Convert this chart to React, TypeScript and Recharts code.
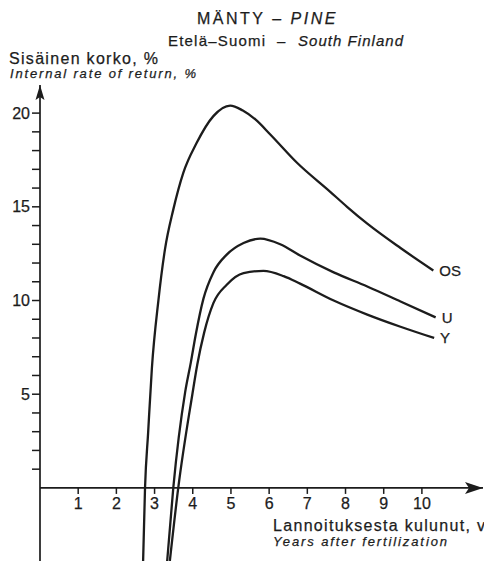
import React from 'react';
import { LineChart, Line, XAxis, YAxis, ReferenceLine, ReferenceDot } from 'recharts';

const FONT = '"Liberation Sans", Arial, Helvetica, sans-serif';
const INK = '#1c1c1c';

// years after fertilization -> internal rate of return, %
const osYears = [2.7, 2.75, 2.83, 2.93, 3.1, 3.27, 3.49, 3.75, 4.1, 4.54, 4.98, 5.3, 5.64, 6.03, 6.73, 7.6, 8.04, 8.57, 9.44, 10.3];
const osRate = [-3.9, 0, 2.9, 6.4, 10.0, 12.7, 14.85, 16.8, 18.4, 19.84, 20.4, 20.15, 19.66, 18.86, 17.35, 15.8, 15.0, 14.1, 12.8, 11.6];

const uYears = [3.33, 3.49, 3.8, 3.95, 4.08, 4.28, 4.54, 4.89, 5.33, 5.77, 6.29, 6.81, 7.69, 8.57, 9.44, 10.36];
const uRate = [-3.9, 0, 5.1, 6.7, 8.2, 10.1, 11.5, 12.45, 13.07, 13.3, 13.0, 12.4, 11.5, 10.75, 9.95, 9.1];

const yYears = [3.4, 3.62, 3.99, 4.12, 4.3, 4.54, 4.89, 5.33, 5.85, 6.38, 6.81, 7.69, 8.57, 9.44, 10.32];
const yRate = [-3.9, 0, 5.0, 6.6, 8.3, 9.86, 10.84, 11.46, 11.58, 11.3, 10.9, 10.0, 9.25, 8.6, 8.0];

const seriesNames = ['OS', 'U', 'Y'];
const xTicks = [1, 2, 3, 4, 5, 6, 7, 8, 9, 10];
const yTicks = [1, 2, 3, 4, 5, 6, 7, 8, 9, 10, 11, 12, 13, 14, 15, 16, 17, 18, 19, 20];

const X_MAX = 11.6;
const Y_MIN = -3.9;
const Y_MAX = 21.5;

const toPoints = (xs: number[], ys: number[]) => xs.map((x, i) => ({ x, y: ys[i] }));

const series = [
  toPoints(osYears, osRate),
  toPoints(uYears, uRate),
  toPoints(yYears, yRate),
];

// a touch of outline so the lettering reads as heavy as the line work
const textInk = { fill: INK, stroke: INK, strokeWidth: 0.25 };

const xTickShape = (value: number) => (p: any) => (
  <g>
    <line x1={p.cx} y1={p.cy} x2={p.cx} y2={p.cy + 6} stroke={INK} strokeWidth={1.5} />
    <text x={p.cx} y={p.cy + 21} textAnchor="middle" fontSize={16} fontFamily={FONT} {...textInk}>
      {value}
    </text>
  </g>
);

const endLabel = (name: string) => (p: any) => (
  <text x={p.cx + 6} y={p.cy} dominantBaseline="central" fontSize={15} fontFamily={FONT} {...textInk}>
    {name}
  </text>
);

const xArrow = (p: any) => (
  <path
    d={`M${p.cx},${p.cy} L${p.cx - 18},${p.cy - 6} L${p.cx - 14},${p.cy} L${p.cx - 18},${p.cy + 6} Z`}
    fill={INK}
  />
);

const yArrow = (p: any) => (
  <path
    d={`M${p.cx},${p.cy} L${p.cx + 4.5},${p.cy + 15} L${p.cx},${p.cy + 12} L${p.cx - 4.5},${p.cy + 15} Z`}
    fill={INK}
  />
);

const Titles = () => (
  <svg
    width={484}
    height={561}
    style={{ position: 'absolute', left: 0, top: 0, pointerEvents: 'none' }}
    fontFamily={FONT}
    {...textInk}
  >
    <text x={197} y={24} fontSize={16} letterSpacing={2.5}>
      MÄNTY –{' '}
      <tspan fontStyle="italic">PINE</tspan>
    </text>
    <text x={168} y={46} fontSize={15} textLength={97} lengthAdjust="spacing">
      Etelä–Suomi
    </text>
    <text x={277} y={46} fontSize={15}>
      –
    </text>
    <text x={298} y={46} fontSize={15} fontStyle="italic" textLength={105} lengthAdjust="spacing">
      South Finland
    </text>
    <text x={9} y={64} fontSize={16} textLength={149} lengthAdjust="spacing">
      Sisäinen korko, %
    </text>
    <text x={10} y={78} fontSize={13} fontStyle="italic" textLength={186} lengthAdjust="spacing">
      Internal rate of return, %
    </text>
    <text x={273} y={531} fontSize={16} textLength={212} lengthAdjust="spacing">
      Lannoituksesta kulunut, v
    </text>
    <text x={273} y={546} fontSize={13} fontStyle="italic" textLength={174} lengthAdjust="spacing">
      Years after fertilization
    </text>
  </svg>
);

export default function App() {
  return (
    <div style={{ position: 'absolute', left: 0, top: 0, width: 484, height: 561, background: '#fff' }}>
      <LineChart width={484} height={561} margin={{ top: 85, right: 1, bottom: 0, left: 0 }}>
        <XAxis type="number" dataKey="x" domain={[0, X_MAX]} allowDataOverflow hide />
        <YAxis
          type="number"
          domain={[Y_MIN, Y_MAX]}
          allowDataOverflow
          width={40}
          ticks={yTicks}
          interval={0}
          tickSize={8}
          tickMargin={2}
          tickFormatter={(v: number) => (v % 5 === 0 ? String(v) : '')}
          tick={{ fontSize: 16, fontFamily: FONT, ...textInk }}
          tickLine={{ stroke: INK, strokeWidth: 1.5 }}
          axisLine={{ stroke: INK, strokeWidth: 1.7 }}
        />
        <ReferenceLine y={0} stroke={INK} strokeWidth={1.7} />
        {xTicks.map((v) => (
          <ReferenceDot key={v} x={v} y={0} r={0} shape={xTickShape(v)} />
        ))}
        <ReferenceDot x={X_MAX} y={0} r={0} shape={xArrow} />
        <ReferenceDot x={0} y={Y_MAX} r={0} shape={yArrow} />
        {series.map((pts, i) => (
          <Line
            key={seriesNames[i]}
            data={pts}
            dataKey="y"
            type="monotone"
            stroke={INK}
            strokeWidth={2.3}
            dot={false}
            activeDot={false}
            isAnimationActive={false}
          />
        ))}
        {series.map((pts, i) => (
          <ReferenceDot
            key={`lbl-${seriesNames[i]}`}
            x={pts[pts.length - 1].x}
            y={pts[pts.length - 1].y}
            r={0}
            shape={endLabel(seriesNames[i])}
          />
        ))}
      </LineChart>
      <Titles />
    </div>
  );
}
